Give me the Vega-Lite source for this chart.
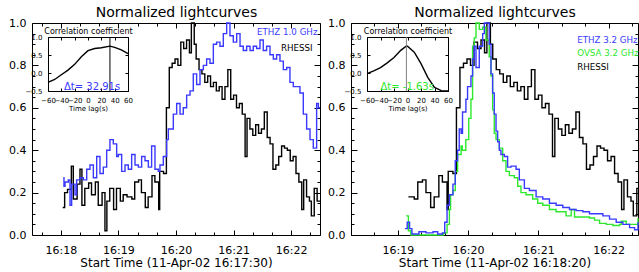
{
  "$schema": "https://vega.github.io/schema/vega-lite/v6.json",
  "width": 639,
  "height": 272,
  "autosize": {"type": "none"},
  "padding": 0,
  "background": "white",
  "config": {
    "font": "DejaVu Sans",
    "view": {"stroke": null},
    "axis": {"grid": false, "domainColor": "black", "tickColor": "black", "labelColor": "black", "titleColor": "black", "labelFont": "DejaVu Sans", "titleFont": "DejaVu Sans", "titleFontWeight": "normal", "minExtent": 0, "labelOverlap": false, "labelFlush": false, "labelBound": false, "domainWidth": 1, "tickWidth": 1}
  },
  "datasets": {
    "rh": [
      {"s":1082,"v":0.13},{"s":1084,"v":0.20},{"s":1087,"v":0.215},{"s":1091,"v":0.325},{"s":1093,"v":0.17},{"s":1097,"v":0.24},{"s":1100,"v":0.31},{"s":1102,"v":0.14},{"s":1105,"v":0.22},{"s":1109,"v":0.245},{"s":1112,"v":0.19},{"s":1116,"v":0.25},{"s":1119,"v":0.14},{"s":1123,"v":0.20},{"s":1126,"v":0.02},{"s":1128,"v":0.16},{"s":1131,"v":0.22},{"s":1135,"v":0.12},{"s":1138,"v":0.22},{"s":1142,"v":0.16},{"s":1145,"v":0.19},{"s":1149,"v":0.18},{"s":1154,"v":0.17},{"s":1157,"v":0.25},{"s":1161,"v":0.26},{"s":1164,"v":0.20},{"s":1168,"v":0.13},{"s":1171,"v":0.18},{"s":1175,"v":0.28},{"s":1178,"v":0.25},{"s":1182,"v":0.12},{"s":1183,"v":0.30},{"s":1187,"v":0.29},{"s":1190,"v":0.60},{"s":1193,"v":0.79},{"s":1196,"v":0.81},{"s":1199,"v":0.83},{"s":1202,"v":0.80},{"s":1205,"v":0.91},{"s":1208,"v":0.88},{"s":1211,"v":0.92},{"s":1214,"v":0.86},{"s":1216,"v":1.0},{"s":1219,"v":0.90},{"s":1221,"v":0.83},{"s":1224,"v":0.78},{"s":1227,"v":0.76},{"s":1230,"v":0.72},{"s":1233,"v":0.75},{"s":1236,"v":0.70},{"s":1239,"v":0.72},{"s":1242,"v":0.68},{"s":1245,"v":0.70},{"s":1248,"v":0.64},{"s":1251,"v":0.70},{"s":1254,"v":0.78},{"s":1257,"v":0.64},{"s":1260,"v":0.66},{"s":1263,"v":0.60},{"s":1266,"v":0.62},{"s":1269,"v":0.57},{"s":1272,"v":0.37},{"s":1274,"v":0.55},{"s":1277,"v":0.50},{"s":1280,"v":0.47},{"s":1283,"v":0.52},{"s":1286,"v":0.48},{"s":1289,"v":0.50},{"s":1292,"v":0.58},{"s":1295,"v":0.46},{"s":1298,"v":0.43},{"s":1301,"v":0.31},{"s":1304,"v":0.33},{"s":1307,"v":0.37},{"s":1310,"v":0.42},{"s":1313,"v":0.41},{"s":1316,"v":0.40},{"s":1319,"v":0.35},{"s":1322,"v":0.37},{"s":1325,"v":0.29},{"s":1328,"v":0.25},{"s":1331,"v":0.12},{"s":1333,"v":0.26},{"s":1336,"v":0.18},{"s":1339,"v":0.16},{"s":1341,"v":0.09},{"s":1344,"v":0.22},{"s":1347,"v":0.16},{"s":1350,"v":0.16}
    ],
    "e1": [
      {"s":1082.6,"v":0.27},{"s":1083.3,"v":0.23},{"s":1084.4,"v":0.25},{"s":1087.8,"v":0.26},{"s":1089.6,"v":0.14},{"s":1091.3,"v":0.24},{"s":1094.8,"v":0.19},{"s":1096.5,"v":0.26},{"s":1100,"v":0.27},{"s":1103.5,"v":0.26},{"s":1107,"v":0.31},{"s":1110.4,"v":0.33},{"s":1113.9,"v":0.27},{"s":1117.4,"v":0.37},{"s":1120.8,"v":0.29},{"s":1124.3,"v":0.32},{"s":1127.8,"v":0.40},{"s":1131.2,"v":0.45},{"s":1134.7,"v":0.43},{"s":1138.2,"v":0.37},{"s":1139.9,"v":0.38},{"s":1143.4,"v":0.30},{"s":1146.9,"v":0.33},{"s":1150.3,"v":0.31},{"s":1153.8,"v":0.38},{"s":1157.3,"v":0.33},{"s":1160.8,"v":0.32},{"s":1164.2,"v":0.37},{"s":1167.7,"v":0.35},{"s":1171.2,"v":0.32},{"s":1174.6,"v":0.42},{"s":1178.1,"v":0.31},{"s":1181.6,"v":0.30},{"s":1183.3,"v":0.33},{"s":1186.8,"v":0.37},{"s":1190.3,"v":0.45},{"s":1192,"v":0.50},{"s":1197.2,"v":0.57},{"s":1200.7,"v":0.62},{"s":1204.2,"v":0.57},{"s":1207.6,"v":0.60},{"s":1211.1,"v":0.66},{"s":1214.6,"v":0.68},{"s":1218,"v":0.76},{"s":1221.5,"v":0.71},{"s":1225,"v":0.78},{"s":1228.5,"v":0.80},{"s":1231.9,"v":0.83},{"s":1235.4,"v":0.81},{"s":1238.9,"v":0.90},{"s":1242.3,"v":0.91},{"s":1245.8,"v":0.89},{"s":1249.3,"v":0.95},{"s":1252.8,"v":1.0},{"s":1256.2,"v":0.94},{"s":1259.7,"v":0.91},{"s":1263.2,"v":0.95},{"s":1266.7,"v":0.89},{"s":1270.1,"v":0.87},{"s":1273.6,"v":0.89},{"s":1277.1,"v":0.87},{"s":1280.5,"v":0.89},{"s":1284,"v":0.88},{"s":1287.5,"v":0.92},{"s":1290.9,"v":0.87},{"s":1294.4,"v":0.89},{"s":1297.9,"v":0.85},{"s":1301.4,"v":0.83},{"s":1304.8,"v":0.85},{"s":1308.3,"v":0.82},{"s":1311.8,"v":0.78},{"s":1315.3,"v":0.79},{"s":1318.7,"v":0.72},{"s":1322.2,"v":0.70},{"s":1325.7,"v":0.70},{"s":1329.1,"v":0.67},{"s":1332.6,"v":0.57},{"s":1336.1,"v":0.50},{"s":1339.6,"v":0.45},{"s":1343,"v":0.41},{"s":1346.5,"v":0.62},{"s":1348.3,"v":0.60},{"s":1350,"v":0.60}
    ],
    "e3": [
      {"s":1146,"v":0.03},{"s":1148,"v":0.06},{"s":1150,"v":0.03},{"s":1152,"v":0.005},{"s":1158,"v":0.015},{"s":1164,"v":0.01},{"s":1170,"v":0.015},{"s":1174,"v":0.005},{"s":1178,"v":0.01},{"s":1180,"v":0.06},{"s":1182,"v":0.14},{"s":1184,"v":0.19},{"s":1187,"v":0.24},{"s":1189,"v":0.35},{"s":1191,"v":0.40},{"s":1192.4,"v":0.50},{"s":1194,"v":0.48},{"s":1195.2,"v":0.58},{"s":1198.1,"v":0.64},{"s":1199.5,"v":0.70},{"s":1202.4,"v":0.75},{"s":1203.8,"v":0.83},{"s":1205.2,"v":0.89},{"s":1206.7,"v":0.79},{"s":1209.5,"v":0.89},{"s":1212.4,"v":0.95},{"s":1213.8,"v":1.0},{"s":1218,"v":0.90},{"s":1219.5,"v":0.76},{"s":1220.9,"v":0.67},{"s":1222.3,"v":0.57},{"s":1223.8,"v":0.49},{"s":1225.2,"v":0.44},{"s":1226.6,"v":0.40},{"s":1228,"v":0.38},{"s":1230.9,"v":0.37},{"s":1233.7,"v":0.32},{"s":1236.6,"v":0.325},{"s":1240.9,"v":0.31},{"s":1243.7,"v":0.26},{"s":1248,"v":0.22},{"s":1252.3,"v":0.21},{"s":1258,"v":0.18},{"s":1263.7,"v":0.17},{"s":1269.4,"v":0.15},{"s":1275.1,"v":0.14},{"s":1280.8,"v":0.13},{"s":1286.5,"v":0.12},{"s":1292.2,"v":0.115},{"s":1297.9,"v":0.11},{"s":1303.6,"v":0.10},{"s":1309.3,"v":0.10},{"s":1315,"v":0.09},{"s":1320.7,"v":0.075},{"s":1326.4,"v":0.06},{"s":1332.1,"v":0.05},{"s":1337.8,"v":0.035},{"s":1342.1,"v":0.025},{"s":1345,"v":0.06}
    ],
    "ov": [
      {"s":1147,"v":0.09},{"s":1149,"v":0.02},{"s":1151,"v":0.0},{"s":1179,"v":0.01},{"s":1182,"v":0.05},{"s":1184,"v":0.12},{"s":1185,"v":0.19},{"s":1187,"v":0.21},{"s":1189,"v":0.30},{"s":1191,"v":0.38},{"s":1194,"v":0.42},{"s":1195,"v":0.40},{"s":1198,"v":0.45},{"s":1200.5,"v":0.55},{"s":1202.4,"v":0.64},{"s":1203.8,"v":0.89},{"s":1205.2,"v":0.93},{"s":1206.7,"v":1.0},{"s":1209.5,"v":0.97},{"s":1212.4,"v":0.98},{"s":1215.2,"v":0.92},{"s":1218,"v":0.84},{"s":1219.5,"v":0.75},{"s":1220.9,"v":0.59},{"s":1222.3,"v":0.48},{"s":1223.8,"v":0.45},{"s":1226.6,"v":0.41},{"s":1229.5,"v":0.35},{"s":1232.3,"v":0.30},{"s":1235.2,"v":0.28},{"s":1239.4,"v":0.27},{"s":1242.3,"v":0.23},{"s":1245.1,"v":0.20},{"s":1249.4,"v":0.19},{"s":1255.1,"v":0.17},{"s":1259.4,"v":0.15},{"s":1263.7,"v":0.14},{"s":1269.4,"v":0.12},{"s":1275.1,"v":0.11},{"s":1283.6,"v":0.09},{"s":1288,"v":0.12},{"s":1290.8,"v":0.085},{"s":1297.9,"v":0.085},{"s":1303.6,"v":0.08},{"s":1307.9,"v":0.07},{"s":1312.2,"v":0.055},{"s":1317.9,"v":0.05},{"s":1323.6,"v":0.045},{"s":1329.3,"v":0.05},{"s":1330.7,"v":0.065},{"s":1335,"v":0.05},{"s":1343.5,"v":0.05},{"s":1345,"v":0.08}
    ],
    "ccl": [
      {"lag":-60,"c":-0.26},{"lag":-50,"c":-0.18},{"lag":-40,"c":-0.05},{"lag":-30,"c":0.08},{"lag":-20,"c":0.24},{"lag":-10,"c":0.45},{"lag":0,"c":0.62},{"lag":10,"c":0.68},{"lag":20,"c":0.70},{"lag":33,"c":0.745},{"lag":40,"c":0.71},{"lag":50,"c":0.64},{"lag":60,"c":0.54}
    ],
    "ccr": [
      {"lag":-60,"c":-0.02},{"lag":-50,"c":0.06},{"lag":-40,"c":0.15},{"lag":-30,"c":0.28},{"lag":-20,"c":0.43},{"lag":-10,"c":0.63},{"lag":-2,"c":0.745},{"lag":0,"c":0.745},{"lag":10,"c":0.58},{"lag":20,"c":0.26},{"lag":30,"c":-0.12},{"lag":40,"c":-0.40},{"lag":50,"c":-0.49},{"lag":60,"c":-0.5}
    ]
  },
  "resolve": {"scale": {"x": "independent", "y": "independent"}, "axis": {"x": "independent", "y": "independent"}},
  "layer": [
    {
      "data": {"name": "rh"},
      "mark": {"type": "line", "interpolate": "step-after", "color": "black", "strokeWidth": 1.4},
      "encoding": {
        "x": {"field": "s", "type": "quantitative", "scale": {"domain": [1050, 1350], "range": [32, 320], "nice": false, "zero": false},
          "axis": {"orient": "bottom", "offset": -37, "values": [1060,1080,1100,1120,1140,1160,1180,1200,1220,1240,1260,1280,1300,1320,1340],
            "labelExpr": "datum.value % 60 == 0 ? '16:' + format(datum.value / 60, '02d') : ''",
            "tickSize": {"condition": {"test": "datum.value % 60 == 0", "value": -5}, "value": -3},
            "labelPadding": 14, "labelFontSize": 11, "title": "Start Time (11-Apr-02 16:17:30)", "titleFontSize": 12, "titlePadding": 0}},
        "y": {"field": "v", "type": "quantitative", "scale": {"domain": [0, 1], "range": [235, 23], "nice": false, "zero": false},
          "axis": {"orient": "left", "offset": -32, "values": [0,0.05,0.1,0.15,0.2,0.25,0.3,0.35,0.4,0.45,0.5,0.55,0.6,0.65,0.7,0.75,0.8,0.85,0.9,0.95,1],
            "labelExpr": "abs(datum.value*5 - round(datum.value*5)) < 0.001 ? format(datum.value, '.1f') : ''",
            "tickSize": {"condition": {"test": "abs(datum.value*5 - round(datum.value*5)) < 0.001", "value": -6}, "value": -3},
            "labelPadding": 12, "labelFontSize": 11, "title": null}}
      }
    },
    {
      "data": {"name": "e1"},
      "mark": {"type": "line", "interpolate": "step-after", "color": "#3a3aff", "strokeWidth": 1.4},
      "encoding": {
        "x": {"field": "s", "type": "quantitative", "scale": {"domain": [1050, 1350], "range": [32, 320], "nice": false, "zero": false},
          "axis": {"orient": "top", "offset": -23, "values": [1060,1080,1100,1120,1140,1160,1180,1200,1220,1240,1260,1280,1300,1320,1340], "labels": false,
            "tickSize": {"condition": {"test": "datum.value % 60 == 0", "value": -5}, "value": -3},
            "title": "Normalized lightcurves", "titleFontSize": 14, "titlePadding": 3}},
        "y": {"field": "v", "type": "quantitative", "scale": {"domain": [0, 1], "range": [235, 23], "nice": false, "zero": false},
          "axis": {"orient": "right", "offset": -319, "values": [0,0.05,0.1,0.15,0.2,0.25,0.3,0.35,0.4,0.45,0.5,0.55,0.6,0.65,0.7,0.75,0.8,0.85,0.9,0.95,1], "labels": false,
            "tickSize": {"condition": {"test": "abs(datum.value*5 - round(datum.value*5)) < 0.001", "value": -6}, "value": -3}, "title": null}}
      }
    },
    {
      "data": {"values": [{}]},
      "mark": {"type": "text", "text": "ETHZ 1.0 GHz", "color": "#3a3aff", "align": "left", "baseline": "middle", "fontSize": 8.7},
      "encoding": {
        "x": {"datum": 1284.4, "type": "quantitative", "scale": {"domain": [1050, 1350], "range": [32, 320], "nice": false, "zero": false}, "axis": null},
        "y": {"datum": 0.959, "type": "quantitative", "scale": {"domain": [0, 1], "range": [235, 23], "nice": false, "zero": false}, "axis": null}
      }
    },
    {
      "data": {"values": [{}]},
      "mark": {"type": "text", "text": "RHESSI", "color": "black", "align": "left", "baseline": "middle", "fontSize": 8.7},
      "encoding": {
        "x": {"datum": 1309.4, "type": "quantitative", "scale": {"domain": [1050, 1350], "range": [32, 320], "nice": false, "zero": false}, "axis": null},
        "y": {"datum": 0.883, "type": "quantitative", "scale": {"domain": [0, 1], "range": [235, 23], "nice": false, "zero": false}, "axis": null}
      }
    },
    {
      "data": {"name": "ccl"},
      "mark": {"type": "line", "color": "black", "strokeWidth": 1.4},
      "encoding": {
        "x": {"field": "lag", "type": "quantitative", "scale": {"domain": [-60, 60], "range": [48, 128], "nice": false, "zero": false},
          "axis": {"orient": "bottom", "offset": -181, "values": [-60,-40,-20,0,20,40,60], "tickSize": -3, "labelPadding": 8, "labelFontSize": 7, "title": "Time lag(s)", "titleFontSize": 7, "titlePadding": 1}},
        "y": {"field": "c", "type": "quantitative", "scale": {"domain": [-0.5, 1], "range": [91, 37], "nice": false, "zero": false},
          "axis": {"orient": "left", "offset": -48, "values": [-0.5, 0, 0.5, 1], "format": ".1f", "tickSize": -3, "labelPadding": 9, "labelFontSize": 7, "title": null}}
      }
    },
    {
      "data": {"values": [{}]},
      "mark": {"type": "rule", "color": "black", "strokeWidth": 1},
      "encoding": {
        "x": {"datum": 32.91, "type": "quantitative", "scale": {"domain": [-60, 60], "range": [48, 128], "nice": false, "zero": false},
          "axis": {"orient": "top", "offset": -37, "values": [-60,-40,-20,0,20,40,60], "labels": false, "tickSize": -3, "title": "Correlation coefficient", "titleFontSize": 8, "titlePadding": 1}},
        "y": {"datum": -0.5, "type": "quantitative", "scale": {"domain": [-0.5, 1], "range": [91, 37], "nice": false, "zero": false},
          "axis": {"orient": "right", "offset": -511, "values": [-0.5, 0, 0.5, 1], "labels": false, "tickSize": -3, "title": null}},
        "y2": {"datum": 1}
      }
    },
    {
      "data": {"values": [{}]},
      "mark": {"type": "text", "text": "Δt= 32.91s", "color": "#3a3aff", "align": "left", "baseline": "middle", "fontSize": 10},
      "encoding": {
        "x": {"datum": -36, "type": "quantitative", "scale": {"domain": [-60, 60], "range": [48, 128], "nice": false, "zero": false}, "axis": null},
        "y": {"datum": -0.39, "type": "quantitative", "scale": {"domain": [-0.5, 1], "range": [91, 37], "nice": false, "zero": false}, "axis": null}
      }
    },
    {
      "data": {"name": "rh"},
      "transform": [{"filter": "datum.s >= 1146"}],
      "mark": {"type": "line", "interpolate": "step-after", "color": "black", "strokeWidth": 1.4, "clip": true},
      "encoding": {
        "x": {"field": "s", "type": "quantitative", "scale": {"domain": [1100, 1345], "range": [351, 638], "nice": false, "zero": false},
          "axis": {"orient": "bottom", "offset": -37, "values": [1100,1120,1140,1160,1180,1200,1220,1240,1260,1280,1300,1320,1340],
            "labelExpr": "datum.value % 60 == 0 ? '16:' + format(datum.value / 60, '02d') : ''",
            "tickSize": {"condition": {"test": "datum.value % 60 == 0", "value": -5}, "value": -3},
            "labelPadding": 14, "labelFontSize": 11, "title": "Start Time (11-Apr-02 16:18:20)", "titleFontSize": 12, "titlePadding": 0}},
        "y": {"field": "v", "type": "quantitative", "scale": {"domain": [0, 1], "range": [235, 23], "nice": false, "zero": false},
          "axis": {"orient": "left", "offset": -351, "values": [0,0.05,0.1,0.15,0.2,0.25,0.3,0.35,0.4,0.45,0.5,0.55,0.6,0.65,0.7,0.75,0.8,0.85,0.9,0.95,1],
            "labelExpr": "abs(datum.value*5 - round(datum.value*5)) < 0.001 ? format(datum.value, '.1f') : ''",
            "tickSize": {"condition": {"test": "abs(datum.value*5 - round(datum.value*5)) < 0.001", "value": -6}, "value": -3},
            "labelPadding": 12, "labelFontSize": 11, "title": null}}
      }
    },
    {
      "data": {"name": "ov"},
      "mark": {"type": "line", "interpolate": "step-after", "color": "#2ee82e", "strokeWidth": 1.4},
      "encoding": {
        "x": {"field": "s", "type": "quantitative", "scale": {"domain": [1100, 1345], "range": [351, 638], "nice": false, "zero": false},
          "axis": {"orient": "top", "offset": -23, "values": [1100,1120,1140,1160,1180,1200,1220,1240,1260,1280,1300,1320,1340], "labels": false,
            "tickSize": {"condition": {"test": "datum.value % 60 == 0", "value": -5}, "value": -3},
            "title": "Normalized lightcurves", "titleFontSize": 14, "titlePadding": 3}},
        "y": {"field": "v", "type": "quantitative", "scale": {"domain": [0, 1], "range": [235, 23], "nice": false, "zero": false},
          "axis": {"orient": "right", "offset": -1, "values": [0,0.05,0.1,0.15,0.2,0.25,0.3,0.35,0.4,0.45,0.5,0.55,0.6,0.65,0.7,0.75,0.8,0.85,0.9,0.95,1], "labels": false,
            "tickSize": {"condition": {"test": "abs(datum.value*5 - round(datum.value*5)) < 0.001", "value": -6}, "value": -3}, "title": null}}
      }
    },
    {
      "data": {"name": "e3"},
      "mark": {"type": "line", "interpolate": "step-after", "color": "#3a3aff", "strokeWidth": 1.4},
      "encoding": {
        "x": {"field": "s", "type": "quantitative", "scale": {"domain": [1100, 1345], "range": [351, 638], "nice": false, "zero": false}, "axis": null},
        "y": {"field": "v", "type": "quantitative", "scale": {"domain": [0, 1], "range": [235, 23], "nice": false, "zero": false}, "axis": null}
      }
    },
    {
      "data": {"values": [{}]},
      "mark": {"type": "text", "text": "ETHZ 3.2 GHz", "color": "#3a3aff", "align": "left", "baseline": "middle", "fontSize": 8.7},
      "encoding": {
        "x": {"datum": 1293.1, "type": "quantitative", "scale": {"domain": [1100, 1345], "range": [351, 638], "nice": false, "zero": false}, "axis": null},
        "y": {"datum": 0.92, "type": "quantitative", "scale": {"domain": [0, 1], "range": [235, 23], "nice": false, "zero": false}, "axis": null}
      }
    },
    {
      "data": {"values": [{}]},
      "mark": {"type": "text", "text": "OVSA 3.2 GHz", "color": "#2ee82e", "align": "left", "baseline": "middle", "fontSize": 8.7},
      "encoding": {
        "x": {"datum": 1293.1, "type": "quantitative", "scale": {"domain": [1100, 1345], "range": [351, 638], "nice": false, "zero": false}, "axis": null},
        "y": {"datum": 0.857, "type": "quantitative", "scale": {"domain": [0, 1], "range": [235, 23], "nice": false, "zero": false}, "axis": null}
      }
    },
    {
      "data": {"values": [{}]},
      "mark": {"type": "text", "text": "RHESSI", "color": "black", "align": "left", "baseline": "middle", "fontSize": 8.7},
      "encoding": {
        "x": {"datum": 1293.1, "type": "quantitative", "scale": {"domain": [1100, 1345], "range": [351, 638], "nice": false, "zero": false}, "axis": null},
        "y": {"datum": 0.794, "type": "quantitative", "scale": {"domain": [0, 1], "range": [235, 23], "nice": false, "zero": false}, "axis": null}
      }
    },
    {
      "data": {"name": "ccr"},
      "mark": {"type": "line", "color": "black", "strokeWidth": 1.4},
      "encoding": {
        "x": {"field": "lag", "type": "quantitative", "scale": {"domain": [-60, 60], "range": [367, 448], "nice": false, "zero": false},
          "axis": {"orient": "bottom", "offset": -181, "values": [-60,-40,-20,0,20,40,60], "tickSize": -3, "labelPadding": 8, "labelFontSize": 7, "title": "Time lag(s)", "titleFontSize": 7, "titlePadding": 1}},
        "y": {"field": "c", "type": "quantitative", "scale": {"domain": [-0.5, 1], "range": [91, 37], "nice": false, "zero": false},
          "axis": {"orient": "left", "offset": -367, "values": [-0.5, 0, 0.5, 1], "format": ".1f", "tickSize": -3, "labelPadding": 9, "labelFontSize": 7, "title": null}}
      }
    },
    {
      "data": {"values": [{}]},
      "mark": {"type": "rule", "color": "#808080", "strokeWidth": 1},
      "encoding": {
        "x": {"datum": -1.63, "type": "quantitative", "scale": {"domain": [-60, 60], "range": [367, 448], "nice": false, "zero": false},
          "axis": {"orient": "top", "offset": -37, "values": [-60,-40,-20,0,20,40,60], "labels": false, "tickSize": -3, "title": "Correlation coefficient", "titleFontSize": 8, "titlePadding": 1}},
        "y": {"datum": -0.5, "type": "quantitative", "scale": {"domain": [-0.5, 1], "range": [91, 37], "nice": false, "zero": false},
          "axis": {"orient": "right", "offset": -191, "values": [-0.5, 0, 0.5, 1], "labels": false, "tickSize": -3, "title": null}},
        "y2": {"datum": 1}
      }
    },
    {
      "data": {"values": [{}]},
      "mark": {"type": "text", "text": "Δt= -1.63s", "color": "#2ee82e", "align": "left", "baseline": "middle", "fontSize": 10},
      "encoding": {
        "x": {"datum": -40, "type": "quantitative", "scale": {"domain": [-60, 60], "range": [367, 448], "nice": false, "zero": false}, "axis": null},
        "y": {"datum": -0.39, "type": "quantitative", "scale": {"domain": [-0.5, 1], "range": [91, 37], "nice": false, "zero": false}, "axis": null}
      }
    }
  ]
}
